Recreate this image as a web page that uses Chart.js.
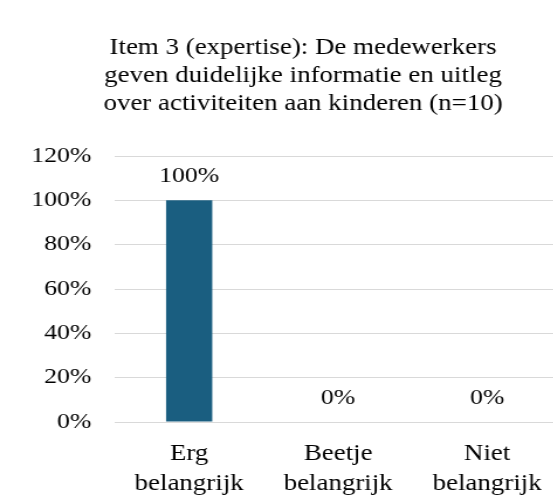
<!DOCTYPE html>
<html>
<head>
<meta charset="utf-8">
<script src="https://cdn.jsdelivr.net/npm/chart.js@4.4.1/dist/chart.umd.min.js"></script>
<style>
    html, body { margin: 0; padding: 0; background: #fff; overflow: hidden; }
    #wrap { width: 553px; height: 498px; overflow: hidden; position: relative; }
    /* source picture is horizontally stretched, so the canvas is too */
    #chart { position: absolute; left: 0; top: 0; transform: scaleX(1.17); transform-origin: 0 0; }
</style>
</head>
<body>
<div id="wrap">
    <canvas id="chart" width="518" height="498" style="width:518px;height:498px"></canvas>
</div>
<script>
// Chart data
const TITLE_LINES = [
    'Item 3 (expertise): De medewerkers',
    'geven duidelijke informatie en uitleg',
    'over activiteiten aan kinderen (n=10)'
];
const CATEGORIES = [
    ['Erg', 'belangrijk'],
    ['Beetje', 'belangrijk'],
    ['Niet', 'belangrijk']
];
const PERCENTAGES = [100, 0, 0];
const Y_TICKS = [0, 20, 40, 60, 80, 100, 120];

const FONT = "'Liberation Serif', 'Times New Roman', serif";
const TEXT_COLOR = '#000000';
const BAR_COLOR = '#1a5e80';

/**
 * Value labels above the bars
 */
const valueLabels = {
    id: 'valueLabels',
    afterDatasetsDraw(chart) {
        const ctx = chart.ctx;
        const meta = chart.getDatasetMeta(0);
        ctx.save();
        ctx.font = '22px ' + FONT;
        ctx.fillStyle = TEXT_COLOR;
        ctx.textAlign = 'center';
        ctx.textBaseline = 'middle';
        meta.data.forEach((bar, i) => {
            ctx.fillText(PERCENTAGES[i] + '%', bar.x, bar.y - 24);
        });
        ctx.restore();
    }
};

new Chart(document.getElementById('chart'), {
    type: 'bar',
    data: {
        labels: CATEGORIES,
        datasets: [{
            data: PERCENTAGES,
            backgroundColor: BAR_COLOR,
            borderWidth: 0,
            barPercentage: 0.31,
            categoryPercentage: 1
        }]
    },
    options: {
        responsive: false,
        animation: false,
        layout: {
            padding: 0
        },
        plugins: {
            legend: { display: false },
            tooltip: { enabled: false },
            title: {
                display: true,
                text: TITLE_LINES,
                color: TEXT_COLOR,
                font: { family: FONT, size: 23, weight: 'normal', lineHeight: '28px' },
                padding: { top: 34, bottom: 38 }
            }
        },
        scales: {
            x: {
                grid: { display: false },
                border: { display: false },
                ticks: {
                    color: TEXT_COLOR,
                    font: { family: FONT, size: 23, lineHeight: '30px' },
                    padding: 9,
                    maxRotation: 0
                },
                afterFit(scale) {
                    scale.height = 76;
                }
            },
            y: {
                min: 0,
                max: 120,
                afterBuildTicks(scale) {
                    scale.ticks = Y_TICKS.map(v => ({ value: v }));
                },
                grid: { color: '#d9d9d9', lineWidth: 1, drawTicks: false },
                border: { display: false },
                ticks: {
                    color: TEXT_COLOR,
                    font: { family: FONT, size: 22 },
                    padding: 20,
                    callback: v => v + '%'
                },
                afterFit(scale) {
                    scale.width = 98;
                }
            },
            // empty right-hand space of the plot, keeps the title centred on the whole chart
            spacer: {
                position: 'right',
                grid: { display: false },
                border: { display: false },
                ticks: { display: false },
                afterFit(scale) {
                    scale.width = 38;
                }
            }
        }
    },
    plugins: [valueLabels]
});
</script>
</body>
</html>
